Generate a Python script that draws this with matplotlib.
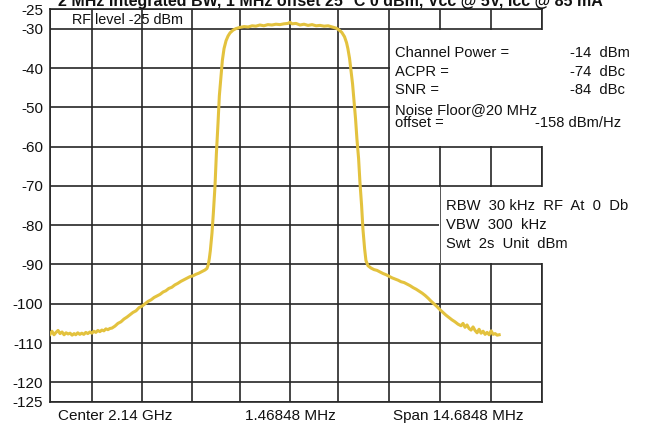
import matplotlib
matplotlib.use("Agg")
import matplotlib.pyplot as plt
from matplotlib.patches import Rectangle

# ---------------- data ----------------
title = "2 MHz Integrated BW, 1 MHz offset 25 \u00b0C 0 dBm, Vcc @ 5V, Icc @ 85 mA"

freq_mhz = [
    -7.35, -7.29, -7.23, -7.17, -7.11, -7.05, -6.99, -6.93, -6.87, -6.81,
    -6.75, -6.69, -6.63, -6.58, -6.52, -6.46, -6.40, -6.34, -6.28, -6.22,
    -6.16, -6.10, -6.04, -5.98, -5.92, -5.86, -5.80, -5.74, -5.68, -5.62,
    -5.56, -5.50, -5.41, -5.32, -5.23, -5.14, -5.05, -4.96, -4.87, -4.78,
    -4.69, -4.60, -4.51, -4.42, -4.33, -4.24, -4.15, -4.06, -3.97, -3.89,
    -3.80, -3.71, -3.62, -3.53, -3.44, -3.35, -3.26, -3.17, -3.08, -2.99,
    -2.90, -2.81, -2.72, -2.66, -2.62, -2.59, -2.56, -2.51, -2.47, -2.42,
    -2.38, -2.33, -2.29, -2.24, -2.20, -2.15, -2.09, -2.03, -1.97, -1.88,
    -1.79, -1.67, -1.55, -1.43, -1.31, -1.20, -1.08, -0.96, -0.84, -0.72,
    -0.60, -0.48, -0.36, -0.24, -0.18, -0.12, 0.00, 0.12, 0.24, 0.36,
    0.48, 0.60, 0.72, 0.84, 0.96, 1.08, 1.20, 1.29, 1.37, 1.45,
    1.51, 1.55, 1.60, 1.64, 1.69, 1.73, 1.78, 1.82, 1.87, 1.91,
    1.96, 2.00, 2.05, 2.09, 2.15, 2.24, 2.33, 2.42, 2.51, 2.60,
    2.69, 2.78, 2.87, 2.96, 3.05, 3.14, 3.23, 3.32, 3.41, 3.50,
    3.59, 3.68, 3.77, 3.86, 3.95, 4.03, 4.12, 4.21, 4.30, 4.39,
    4.48, 4.57, 4.66, 4.75, 4.84, 4.93, 4.99, 5.05, 5.11, 5.17,
    5.23, 5.29, 5.35, 5.41, 5.47, 5.53, 5.59, 5.65, 5.71, 5.77,
    5.83, 5.89, 5.95, 6.01, 6.07,
]

level_dbm = [
    -107.8, -107.0, -107.9, -107.3, -106.8, -107.6, -107.2, -107.9, -107.4, -107.7,
    -107.5, -108.0, -107.6, -107.9, -107.4, -107.8, -107.5, -107.8, -107.3, -107.6,
    -107.2, -107.5, -107.0, -107.3, -106.8, -107.1, -106.7, -106.9, -106.4, -106.6,
    -106.3, -106.2, -105.7, -105.0, -104.6, -103.9, -103.4, -102.8, -102.2, -101.8,
    -101.0, -100.6, -100.0, -99.4, -99.0, -98.4, -98.0, -97.6, -97.0, -96.7,
    -96.1, -95.8, -95.2, -94.8, -94.3, -93.9, -93.5, -93.1, -92.9, -92.5,
    -92.2, -91.8, -91.4, -91.0, -90.0, -88.5, -86.5, -82.0, -77.0, -70.0,
    -62.0, -54.0, -47.0, -42.0, -38.0, -35.0, -33.0, -31.8, -31.0, -30.3,
    -29.9, -29.6, -29.4, -29.5, -29.2, -29.3, -29.0, -29.2, -28.9, -29.0,
    -28.8, -28.9, -28.7, -28.6, -28.3, -28.7, -28.6, -29.0, -28.8, -29.1,
    -28.9, -29.2, -29.1, -29.3, -29.2, -29.5, -29.8, -30.3, -30.9, -32.0,
    -33.5, -35.0, -37.5, -40.5, -44.0, -48.0, -53.0, -58.0, -63.0, -69.0,
    -75.0, -81.0, -86.0, -89.0, -90.3, -90.9, -91.3, -91.5, -91.9, -92.3,
    -92.6, -93.0, -93.4, -93.7, -94.0, -94.4, -94.6, -95.0, -95.4, -95.9,
    -96.3, -96.8, -97.3, -97.9, -98.6, -99.3, -100.0, -100.7, -101.5, -102.2,
    -102.9, -103.5, -104.1, -104.6, -105.2, -105.6, -105.0, -106.0, -105.4, -106.3,
    -106.7, -105.9, -106.8, -107.4, -106.5, -107.5, -107.0, -107.8, -107.3, -107.9,
    -106.9, -107.8, -107.6, -108.0, -107.9,
]

y_ticks = [-25, -30, -40, -50, -60, -70, -80, -90, -100, -110, -120, -125]
x_grid = [-7.35, -6.11, -4.61, -3.12, -1.67, -0.18, 1.26, 2.78, 4.30, 5.83, 7.35]
x_labels = ["Center 2.14 GHz", "1.46848 MHz", "Span 14.6848 MHz"]
rf_level_text = "RF level -25 dBm"
meas_names = ["Channel Power =", "ACPR =", "SNR ="]
meas_values = ["-14  dBm", "-74  dBc", "-84  dBc"]
noise_name = ["Noise Floor@20 MHz", "offset ="]
noise_value = "-158 dBm/Hz"
settings_lines = ["RBW  30 kHz  RF  At  0  Db", "VBW  300  kHz", "Swt  2s  Unit  dBm"]

# ---------------- style ----------------
W, H = 656, 425
FONT = "Liberation Sans"
GRID = "#262626"
TRACE = "#E3C23E"
plt.rcParams["font.family"] = [FONT, "DejaVu Sans"]


def fp(x, y):
    return x / W, 1 - y / H


fig = plt.figure(figsize=(W / 100, H / 100), dpi=100)
ax_left, ax_right, ax_top, ax_bot = 50, 542, 9.3, 401.9
ax = fig.add_axes([ax_left / W, 1 - ax_bot / H, (ax_right - ax_left) / W, (ax_bot - ax_top) / H])
ax.set_xlim(x_grid[0], x_grid[-1])
ax.set_ylim(-125, -25)
ax.set_xticks(x_grid)
ax.set_xticklabels([])
ax.set_yticks(y_ticks)
ax.set_yticklabels([str(v) for v in y_ticks])
ax.tick_params(axis="both", length=0)
ax.tick_params(axis="y", pad=5, labelsize=11, labelcolor="#111111")
ax.grid(True, color=GRID, lw=1.2)
for s in ax.spines.values():
    s.set_color(GRID)
    s.set_linewidth(1.2)

# white info boxes (cover grid inside)
dx, dy = 0.035, 0.3
ax.add_patch(Rectangle((x_grid[7] + dx, -60 + dy), 12, 30 - 2 * dy, facecolor="white",
                       edgecolor="none", zorder=2.6, clip_on=False))
ax.add_patch(Rectangle((x_grid[8] - dx, -90 + dy), 12, 20 - 2 * dy, facecolor="white",
                       edgecolor="none", zorder=2.6, clip_on=False))
ax.vlines(x_grid[8], -90, -70, color="#555555", lw=0.7, zorder=2.7)

# trace
ax.plot(freq_mhz, level_dbm, color=TRACE, lw=2.2, zorder=4, solid_joinstyle="round")

# texts
fig.text(*fp(330, 6.0), title, ha="center", va="baseline", fontsize=11.5,
         fontweight="bold", color="#111111")
fig.text(*fp(72, 19.5), rf_level_text, ha="left", va="center", fontsize=10.4, color="#111111")

for i, (n, v) in enumerate(zip(meas_names, meas_values)):
    y = 53 + i * 18.5
    fig.text(*fp(395, y), n, ha="left", va="center", fontsize=10.6, color="#111111")
    fig.text(*fp(570, y), v, ha="left", va="center", fontsize=10.6, color="#111111")
fig.text(*fp(395, 110), noise_name[0], ha="left", va="center", fontsize=10.6, color="#111111")
fig.text(*fp(395, 123), noise_name[1], ha="left", va="center", fontsize=10.6, color="#111111")
fig.text(*fp(535, 123), noise_value, ha="left", va="center", fontsize=10.6, color="#111111")

for i, line in enumerate(settings_lines):
    fig.text(*fp(446, 206 + i * 19), line, ha="left", va="center", fontsize=10.6, color="#111111")

fig.text(*fp(57.5, 416), x_labels[0], ha="left", va="center", fontsize=11, color="#111111")
fig.text(*fp(290, 416), x_labels[1], ha="center", va="center", fontsize=11, color="#111111")
fig.text(*fp(393, 416), x_labels[2], ha="left", va="center", fontsize=11, color="#111111")

fig.savefig("out.png", dpi=100, facecolor="white")
